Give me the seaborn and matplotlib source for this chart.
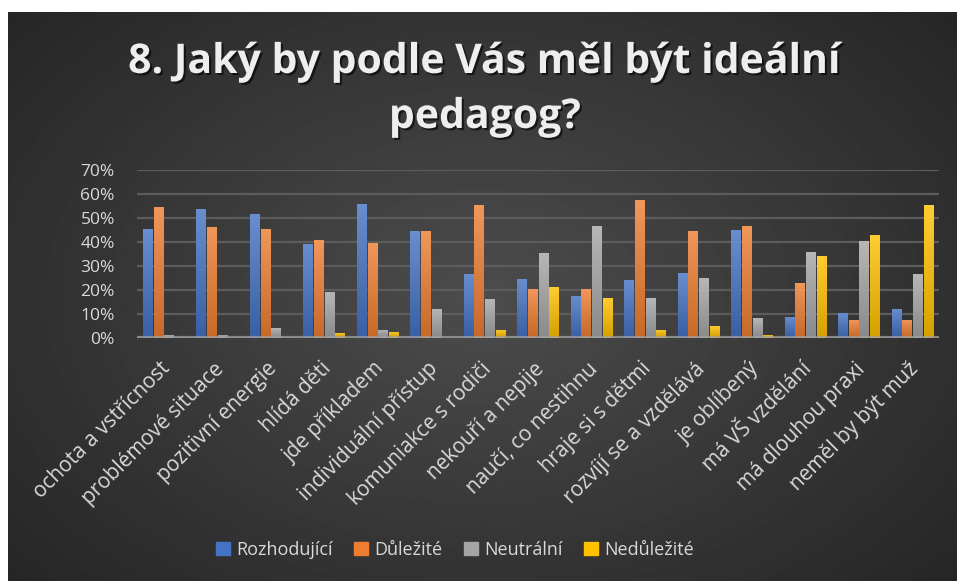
import numpy as np
import pandas as pd
import seaborn as sns
import matplotlib.pyplot as plt
import matplotlib.patheffects as pe
import matplotlib.transforms as mtransforms
from matplotlib.colors import to_rgba
from matplotlib.ticker import PercentFormatter

# Data (share of answers, %)
items = [
    'ochota a vstřícnost', 'problémové situace', 'pozitivní energie',
    'hlídá děti', 'jde příkladem', 'individuální přístup',
    'komuniakce s rodiči', 'nekouří a nepije', 'naučí, co nestihnu',
    'hraje si s dětmi', 'rozvíjí se a vzdělává', 'je oblíbený',
    'má VŠ vzdělání', 'má dlouhou praxi', 'neměl by být muž',
]
series = ['Rozhodující', 'Důležité', 'Neutrální', 'Nedůležité']
rozhodujici = [45.3, 53.6, 51.5, 39.0, 55.7, 44.4, 26.5, 24.4, 17.3, 24.0, 26.9, 44.8, 8.5, 10.2, 11.8]
dulezite = [54.5, 46.1, 45.3, 40.7, 39.4, 44.4, 55.3, 20.2, 20.2, 57.4, 44.4, 46.5, 22.7, 7.2, 7.2]
neutralni = [1.0, 1.0, 3.9, 18.9, 3.1, 11.8, 16.0, 35.2, 46.5, 16.4, 24.8, 8.1, 35.7, 40.3, 26.5]
nedulezite = [0.0, 0.0, 0.0, 1.8, 2.2, 0.0, 3.1, 21.0, 16.4, 3.1, 4.7, 1.0, 34.0, 42.8, 55.3]
colors = ['#4472C4', '#ED7D31', '#A5A5A5', '#FFC000']

title_lines = ['8. Jaký by podle Vás měl být ideální', 'pedagog?']
text_color = '#d9d9d9'


def build_frame():
    df = pd.DataFrame({
        'item': items,
        series[0]: rozhodujici,
        series[1]: dulezite,
        series[2]: neutralni,
        series[3]: nedulezite,
    })
    return df.melt(id_vars='item', var_name='series', value_name='value')


def draw_background(fig):
    # dark panel with a soft radial gradient, white strip at top/left
    bg = fig.add_axes([8 / 957, 0, 1 - 8 / 957, 1 - 12 / 581], zorder=-10)
    yy, xx = np.mgrid[0:1:300j, 0:1:500j]
    r = np.sqrt(((xx - 0.5) / 0.75) ** 2 + ((yy - 0.5) / 0.85) ** 2)
    shade = 0.30 - 0.17 * np.clip(r, 0, 1)
    bg.imshow(shade, cmap='gray', vmin=0, vmax=1, aspect='auto',
              extent=[0, 1, 0, 1], interpolation='bilinear')
    bg.set_axis_off()


def shade_bars(ax):
    # light-to-dark vertical gradient on every bar, like the Office style
    for bar in list(ax.patches):
        h = bar.get_height()
        if h <= 0:
            continue
        base = np.array(to_rgba(bar.get_facecolor()))
        top = base.copy()
        top[:3] = base[:3] + (1 - base[:3]) * 0.2
        bottom = base.copy()
        bottom[:3] = base[:3] * 0.84
        t = np.linspace(0, 1, 64)[:, None]
        grad = (bottom * (1 - t) + top * t)[:, None, :]
        x0 = bar.get_x()
        im = ax.imshow(grad, extent=[x0, x0 + bar.get_width(), 0, h],
                       origin='lower', aspect='auto', zorder=3.5,
                       interpolation='bilinear')
        im.set_clip_path(bar)


def main():
    plt.rcParams['font.family'] = ['Open Sans', 'DejaVu Sans']
    df = build_frame()

    fig = plt.figure(figsize=(9.57, 5.81), dpi=100)
    fig.patch.set_facecolor('white')
    draw_background(fig)

    ax = fig.add_axes([137 / 957, 1 - 337.5 / 581, (939 - 137) / 957, (337.5 - 169.7) / 581])
    ax.set_facecolor('none')

    sns.barplot(data=df, x='item', y='value', hue='series', palette=colors,
                width=0.8, gap=0.12, saturation=1, ax=ax, legend=False, zorder=3)
    shade_bars(ax)

    ax.set_ylim(0, 70)
    ax.set_xlim(-0.5, len(items) - 0.5)
    ax.set_yticks(range(0, 71, 10))
    ax.yaxis.set_major_formatter(PercentFormatter(decimals=0))
    ax.grid(axis='y', color='#5c5c5c', lw=1.6, zorder=0)
    ax.axhline(0, color='#a0a0a0', lw=3, alpha=0.75, zorder=5)

    for s in ax.spines.values():
        s.set_visible(False)
    ax.tick_params(length=0)
    ax.tick_params(axis='y', labelsize=12.5, labelcolor=text_color, pad=16)
    ax.tick_params(axis='x', labelsize=15, labelcolor=text_color, pad=15)
    ax.set_xticks(range(len(items)))
    ax.set_xticklabels(items, rotation=45, ha='right', rotation_mode='anchor')
    shift = mtransforms.ScaledTranslation(-4 / 100, 0, fig.dpi_scale_trans)
    for lbl in ax.get_xticklabels():
        lbl.set_transform(lbl.get_transform() + shift)
    ax.set_xlabel('')
    ax.set_ylabel('')

    # Title with a light drop shadow
    shadow = [pe.withSimplePatchShadow(offset=(1.5, -1.5), shadow_rgbFace='black', alpha=0.6)]
    for line, y_px in zip(title_lines, [73, 128]):
        fig.text(485 / 957, 1 - y_px / 581, line, ha='center', va='baseline',
                 fontsize=29.5, fontweight='bold', color='#eeeeee',
                 path_effects=shadow)

    # Legend
    handles = [plt.Rectangle((0, 0), 1, 1, color=c) for c in colors]
    leg = fig.legend(handles, series, loc='center', ncol=4,
                     bbox_to_anchor=(455 / 957, 1 - 550 / 581), frameon=False,
                     fontsize=13, handlelength=0.75, handleheight=0.75,
                     handletextpad=0.35, columnspacing=1.2)
    for t in leg.get_texts():
        t.set_color(text_color)

    fig.savefig('out.png', dpi=100)


if __name__ == '__main__':
    main()
